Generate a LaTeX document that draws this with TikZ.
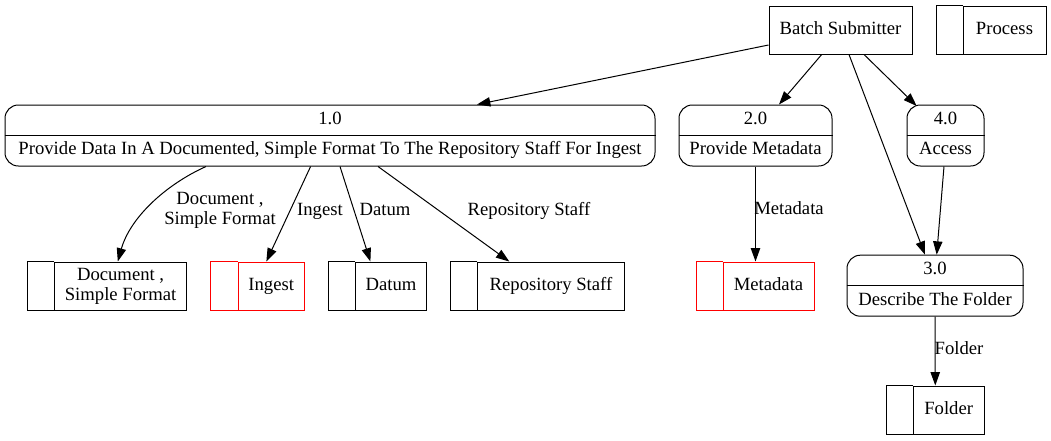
\documentclass[tikz,border=0pt]{standalone}
\usepackage{fontspec}
\setmainfont{Liberation Serif}
\usetikzlibrary{calc,arrows.meta}
\begin{document}
\begin{tikzpicture}[x=0.75pt,y=-0.75pt,
  every node/.style={font=\rmfamily\fontsize{14}{15}\selectfont, inner sep=0pt, text height=9.5pt, text depth=3pt},
  procbox/.style={draw, line width=0.75pt, rounded corners=10pt, minimum height=61*0.75pt, inner sep=0pt},
  entbox/.style={draw, line width=0.75pt, minimum height=48*0.75pt, inner sep=0pt},
  storebox/.style={draw, line width=0.75pt, minimum height=48*0.75pt, inner sep=0pt},
  redstore/.style={storebox, draw=red},
  flow/.style={line width=0.75pt, -{Triangle[length=10pt,width=7pt]}},
  lbl/.style={align=center}
]
\useasboundingbox (0,0) rectangle (1051,440);

% external entity
\node[entbox, minimum width=143*0.75pt] (b) at (840.5,30) {Batch Submitter};

% legend store
\node[storebox, minimum width=83*0.75pt] (leg) at (1004.5,30) {Process};
\draw[line width=0.75pt] (leg.north west) -- ++(-26.5,0) |- (leg.south west);

% processes
\node[procbox, minimum width=650*0.75pt] (p1) at (330,135.5) {};
\draw[line width=0.75pt] (p1.west) -- (p1.east);
\node (p1n) at ($(p1.center)+(0,-15.5)$) {1.0};
\node (p1t) at ($(p1.center)+(0,15)$) {Provide Data In A Documented, Simple Format To The Repository Staff For Ingest};

\node[procbox, minimum width=153*0.75pt] (p2) at (755.5,135.5) {};
\draw[line width=0.75pt] (p2.west) -- (p2.east);
\node (p2n) at ($(p2.center)+(0,-15.5)$) {2.0};
\node (p2t) at ($(p2.center)+(0,15)$) {Provide Metadata};

\node[procbox, minimum width=77*0.75pt] (p4) at (945.5,135.5) {};
\draw[line width=0.75pt] (p4.west) -- (p4.east);
\node (p4n) at ($(p4.center)+(0,-15.5)$) {4.0};
\node (p4t) at ($(p4.center)+(0,15)$) {Access};

\node[procbox, minimum width=176*0.75pt] (p3) at (935,285.7) {};
\draw[line width=0.75pt] (p3.west) -- (p3.east);
\node (p3n) at ($(p3.center)+(0,-15.5)$) {3.0};
\node (p3t) at ($(p3.center)+(0,15)$) {Describe The Folder};

% data stores
\node[storebox, minimum width=131.8*0.75pt, align=center, text height=, text depth=] (ds) at (120.6,286) {Document ,\\Simple Format};
\draw[line width=0.75pt] (ds.north west) -- ++(-26.5,0) |- (ds.south west);

\node[redstore, minimum width=66.1*0.75pt] (ing) at (271.25,286) {Ingest};
\draw[line width=0.75pt, red] (ing.north west) -- ++(-27.3,0) |- (ing.south west);

\node[storebox, minimum width=70.8*0.75pt] (dat) at (391,286) {Datum};
\draw[line width=0.75pt] (dat.north west) -- ++(-26.5,0) |- (dat.south west);

\node[storebox, minimum width=146.5*0.75pt] (rep) at (551,286) {Repository Staff};
\draw[line width=0.75pt] (rep.north west) -- ++(-26.5,0) |- (rep.south west);

\node[redstore, minimum width=91*0.75pt] (meta) at (768.5,286) {Metadata};
\draw[line width=0.75pt, red] (meta.north west) -- ++(-26.3,0) |- (meta.south west);

\node[storebox, minimum width=70.7*0.75pt] (fold) at (948.7,410) {Folder};
\draw[line width=0.75pt] (fold.north west) -- ++(-26.6,0) |- (fold.south west);

% flows
\draw[flow] ($(b.west)+(0,15)$) -- ($(p1.north)+(147,0)$);
\draw[flow] ($(b.south)+(-18.8,0)$) -- ($(p2.north)+(23.5,0)$);
\draw[flow] ($(b.south)+(8.5,0)$) -- ($(p3.north)+(-10,0)$);
\draw[flow] ($(b.south)+(23.5,0)$) -- ($(p4.north)+(-28.8,1.5)$);
\draw[flow] ($(p4.south)+(-1.5,0)$) -- ($(p3.north)+(1.7,0)$);
\draw[flow] (p2.south) -- ($(meta.north)+(-13,0)$);
\draw[flow] (p3.south) -- ($(fold.north)+(-13.4,0)$);

\draw[flow] ($(p1.south)+(-124,0)$) .. controls (165,185) and (130,218) .. ($(ds.north)+(-2.8,0)$);
\draw[flow] ($(p1.south)+(-19.4,0)$) -- ($(ing.north)+(-4.9,0)$);
\draw[flow] ($(p1.south)+(10,0)$) -- ($(dat.north)+(-20.6,0)$);
\draw[flow] ($(p1.south)+(48,0)$) -- ($(rep.north)+(-41.7,0)$);

% flow labels
\node[lbl, text height=, text depth=] (l1) at (220,210) {Document ,\\Simple Format};
\node (l2) at (320,211) {Ingest};
\node (l3) at (385,211) {Datum};
\node (l4) at (529,211) {Repository Staff};
\node (l5) at (789,210) {Metadata};
\node (l6) at (959,350) {Folder};
\end{tikzpicture}
\end{document}
